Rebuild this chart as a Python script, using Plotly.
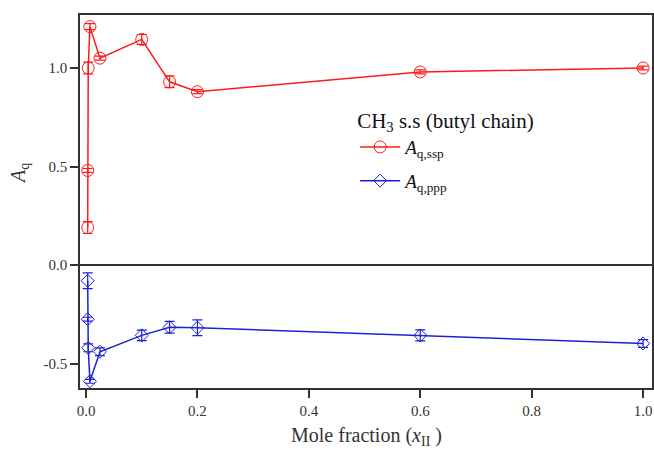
import plotly.graph_objects as go

x_frac = [0.003, 0.003, 0.004, 0.007, 0.025, 0.1, 0.15, 0.2, 0.6, 1.0]
aq_ssp = [0.19, 0.48, 1.0, 1.21, 1.05, 1.145, 0.93, 0.88, 0.98, 1.0]
aq_ssp_err = [0.03, 0.01, 0.03, 0.015, 0.01, 0.025, 0.03, 0.01, 0.01, 0.01]
aq_ppp = [-0.08, -0.275, -0.42, -0.59, -0.44, -0.357, -0.316, -0.318, -0.357, -0.398]
aq_ppp_err = [0.04, 0.01, 0.02, 0.01, 0.02, 0.027, 0.03, 0.04, 0.028, 0.02]
x_ticks = [0.0, 0.2, 0.4, 0.6, 0.8, 1.0]
x_ticklabels = ["0.0", "0.2", "0.4", "0.6", "0.8", "1.0"]
y_ticks = [-0.5, 0.0, 0.5, 1.0]
y_ticklabels = ["-0.5", "0.0", "0.5", "1.0"]

RED = "#ff1a1a"
BLUE = "#1f1fd6"
FONT = "Liberation Serif, Times New Roman, serif"
INK = "#333333"

fig = go.Figure()
fig.add_trace(go.Scatter(
    x=x_frac, y=aq_ssp, mode="lines+markers",
    name="<i>A</i><sub>q,ssp</sub>", legendgroup="ssp", cliponaxis=False,
    line=dict(color=RED, width=1.5),
    marker=dict(symbol="circle-open", size=12, color=RED, line=dict(width=1)),
    error_y=dict(type="data", array=aq_ssp_err, color=RED, thickness=1.2, width=5),
))
fig.add_trace(go.Scatter(
    x=x_frac, y=aq_ppp, mode="lines+markers",
    name="<i>A</i><sub>q,ppp</sub>", legendgroup="ppp", cliponaxis=False,
    line=dict(color=BLUE, width=1.5),
    marker=dict(symbol="diamond-open", size=10, color=BLUE, line=dict(width=1)),
    error_y=dict(type="data", array=aq_ppp_err, color=BLUE, thickness=1.2, width=5),
))

fig.update_layout(
    width=654, height=453,
    margin=dict(l=80, r=2, t=15, b=65, autoexpand=False),
    paper_bgcolor="white", plot_bgcolor="white",
    font=dict(family=FONT, size=15, color=INK),
    showlegend=True,
    legend=dict(
        x=0.481, y=0.77, xanchor="left", yanchor="top",
        bgcolor="rgba(0,0,0,0)",
        title=dict(text="CH<sub>3</sub> s.s (butyl chain)", font=dict(size=21, family=FONT, color="#111")),
        font=dict(size=19, family=FONT, color="#111"),
        itemwidth=40,
        tracegroupgap=6,
    ),
    xaxis=dict(
        range=[-0.0108, 1.016],
        tickvals=x_ticks, ticktext=x_ticklabels,
        ticks="outside", ticklen=8, tickwidth=1.5, tickcolor=INK,
        showline=True, linecolor=INK, linewidth=1.5, mirror=True,
        showgrid=False, zeroline=False,
        tickfont=dict(size=15, family=FONT, color=INK),
    ),
    yaxis=dict(
        range=[-0.624, 1.269],
        tickvals=y_ticks, ticktext=y_ticklabels,
        ticks="outside", ticklen=8, tickwidth=1.5, tickcolor=INK,
        showline=True, linecolor=INK, linewidth=1.5, mirror=True,
        showgrid=False, zeroline=True, zerolinecolor=INK, zerolinewidth=1.5,
        tickfont=dict(size=15, family=FONT, color=INK),
    ),
    annotations=[
        dict(
            text="<i>A</i><sub>q</sub>", textangle=-90,
            xref="paper", yref="paper", x=-0.107, y=0.576,
            xanchor="center", yanchor="middle", showarrow=False,
            font=dict(size=20, family=FONT, color=INK),
        ),
        dict(
            text="Mole fraction (<i>x</i><sub>II</sub> )",
            xref="paper", yref="paper", x=0.5, y=-0.131,
            xanchor="center", yanchor="middle", showarrow=False,
            font=dict(size=20, family=FONT, color=INK),
        ),
    ],
)

fig.write_html(
    "out.html",
    config={"displayModeBar": False},
    post_script="document.body.style.margin='0';",
)
